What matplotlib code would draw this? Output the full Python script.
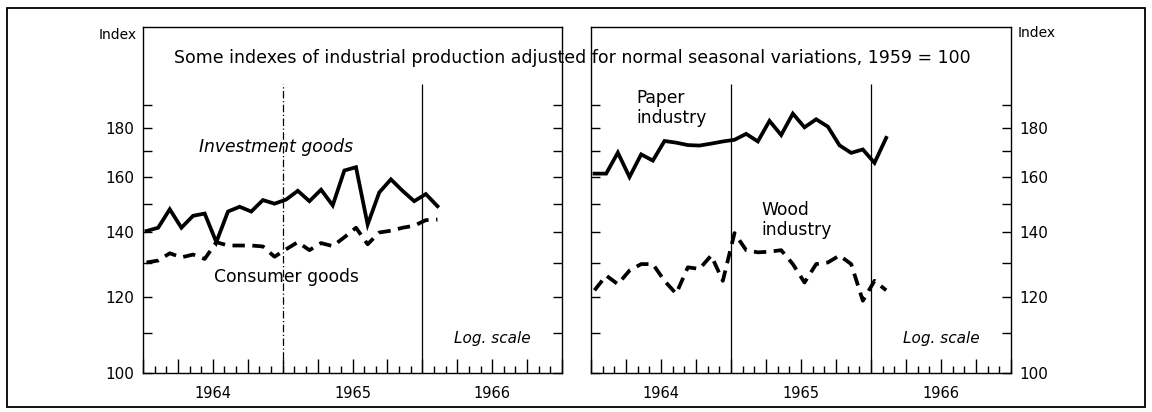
import matplotlib.pyplot as plt
import numpy as np
from matplotlib.patches import Rectangle

# Monthly index values, January 1964 onwards (1959 = 100)
months = np.arange(26)
investment_goods = [140.5, 141.6, 148.0, 141.6, 145.7, 146.5, 136.8, 147.2, 148.9, 147.2,
                    151.3, 150.0, 151.5, 154.7, 150.9, 155.1, 149.4, 162.4, 163.7, 142.7,
                    154.1, 159.0, 154.7, 150.9, 153.5, 149.1]
consumer_goods = [130.3, 130.9, 133.2, 131.9, 132.8, 131.4, 136.8, 135.7, 135.7, 135.7,
                  135.4, 132.1, 134.5, 136.8, 134.2, 136.5, 135.5, 138.4, 141.6, 136.1,
                  140.0, 140.6, 141.6, 142.3, 144.2, 144.4]
paper_industry = [161.2, 161.2, 169.5, 159.9, 168.8, 166.3, 174.3, 173.6, 172.6, 172.4,
                  173.2, 174.1, 174.8, 177.3, 174.1, 182.9, 176.8, 186.1, 180.1, 183.6,
                  180.4, 172.5, 169.4, 170.8, 165.4, 175.6]
wood_industry = [121.9, 126.3, 123.7, 127.8, 129.8, 129.8, 124.7, 120.9, 128.8, 128.3,
                 132.5, 124.7, 139.8, 134.2, 133.5, 133.7, 134.2, 129.8, 124.2, 129.8,
                 130.3, 132.5, 129.8, 118.9, 124.7, 121.9]

years = ["1964", "1965", "1966"]
ytick_labels = [100, 120, 140, 160, 180]

W, H = 1152, 412
fig = plt.figure(figsize=(W / 100, H / 100), dpi=100)
plt.rcParams["font.family"] = "DejaVu Sans"

ax1 = fig.add_axes([143 / W, 1 - 373 / H, 419 / W, 346 / H])
ax2 = fig.add_axes([591 / W, 1 - 373 / H, 420 / W, 346 / H])

x = months + 0.3
solid = dict(color="black", lw=2.7, solid_joinstyle="miter")
dashed = dict(color="black", lw=2.7, linestyle=(0, (3.3, 2.0)), dash_capstyle="butt")

ax1.plot(x, investment_goods, **solid)
ax1.plot(x, consumer_goods, **dashed)
ax2.plot(x, paper_industry, **solid)
ax2.plot(x, wood_industry, **dashed)

for ax, side in [(ax1, "left"), (ax2, "right")]:
    ax.set_yscale("log")
    ax.set_ylim(100, 229)
    ax.set_xlim(0, 36)
    for s in ax.spines.values():
        s.set_linewidth(1.0)

    # y ticks every 10, labels every 20
    ax.yaxis.set_major_locator(plt.FixedLocator(ytick_labels))
    ax.yaxis.set_major_formatter(plt.FixedFormatter([str(v) for v in ytick_labels]))
    ax.yaxis.set_minor_locator(plt.FixedLocator([110, 130, 150, 170, 190]))
    ax.yaxis.set_minor_formatter(plt.NullFormatter())
    ax.tick_params(axis="y", which="both", direction="in", length=6.5, width=1.0,
                   left=True, right=True, labelleft=(side == "left"),
                   labelright=(side == "right"), labelsize=11, pad=6)

    # month ticks, longer each quarter
    ax.set_xticks(np.arange(0, 37, 3))
    ax.set_xticks(np.arange(0, 37, 1), minor=True)
    ax.tick_params(axis="x", which="major", direction="in", length=10, width=1.0,
                   labelbottom=False)
    ax.tick_params(axis="x", which="minor", direction="in", length=5, width=1.0)
    for i, yr in enumerate(years):
        ax.text(6 + 12 * i, -0.058, yr, transform=ax.get_xaxis_transform(),
                ha="center", va="center", fontsize=10.5)

    ax.text(30, 108.7, "Log. scale", ha="center", va="center", fontsize=11,
            style="italic")

# year boundaries
ax1.vlines(12, 100, 200, color="black", lw=0.9, linestyle=(0, (6, 2, 1, 2)))
ax1.vlines(24, 100, 200, color="black", lw=0.9)
ax2.vlines(12, 100, 200, color="black", lw=0.9)
ax2.vlines(24, 100, 200, color="black", lw=0.9)

# series labels
ax1.text(11.4, 171.6, "Investment goods", ha="center", va="center", fontsize=12.3,
         style="italic")
ax1.text(12.3, 125.8, "Consumer goods", ha="center", va="center", fontsize=12.3)
ax2.text(3.9, 188.7, "Paper\nindustry", ha="left", va="center", fontsize=12.3,
         linespacing=1.15)
ax2.text(14.6, 144.2, "Wood\nindustry", ha="left", va="center", fontsize=12.3,
         linespacing=1.15)

fig.text(137 / W, 1 - 35 / H, "Index", ha="right", va="center", fontsize=10)
fig.text(1018 / W, 1 - 33 / H, "Index", ha="left", va="center", fontsize=10)
fig.text(572 / W, 1 - 58 / H,
         "Some indexes of industrial production adjusted for normal seasonal variations, 1959 = 100",
         ha="center", va="center", fontsize=12.5)

# outer frame
fig.patches.append(Rectangle((7 / W, 1 - 407 / H), 1138 / W, 399 / H,
                             transform=fig.transFigure, fill=False,
                             edgecolor="black", lw=1.3))

fig.savefig("out.png", dpi=100)
